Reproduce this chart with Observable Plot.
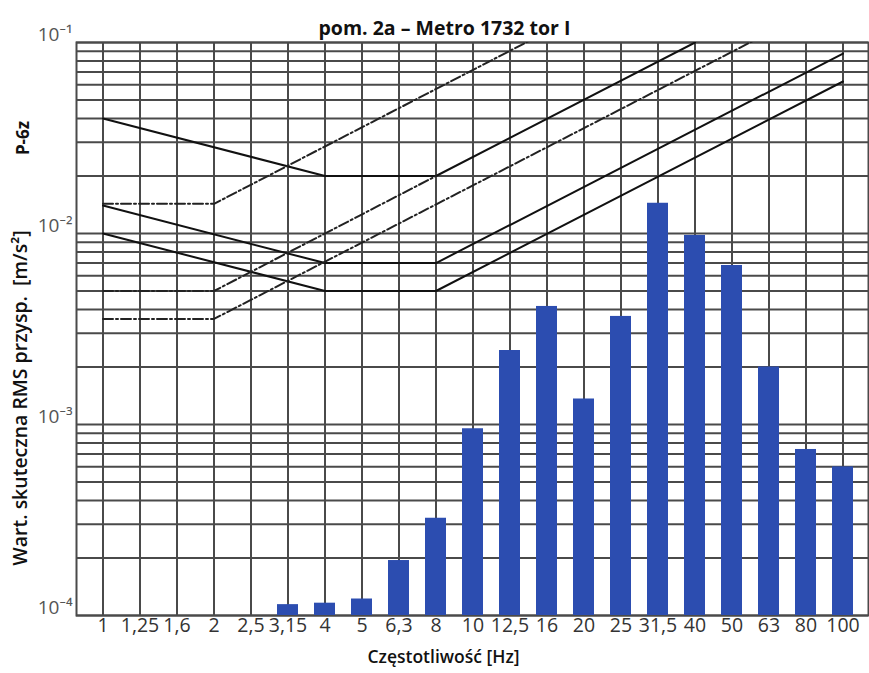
<!DOCTYPE html>
<html>
<head>
<meta charset="utf-8">
<script src="https://cdn.jsdelivr.net/npm/d3@7"></script>
<script src="https://cdn.jsdelivr.net/npm/@observablehq/plot@0.6"></script>
<style>
  html, body { margin: 0; padding: 0; background: #fff; }
  #chart svg { display: block; }
</style>
</head>
<body>
<div id="chart"></div>
<script>
// Frequency bands (x categories / tick labels)
const freqLabels = ["1","1,25","1,6","2","2,5","3,15","4","5","6,3","8","10","12,5","16","20","25","31,5","40","50","63","80","100"];
// Measured RMS acceleration per band [m/s²] (null = no bar)
const rmsValues = [null,null,null,null,null,1.14e-4,1.16e-4,1.22e-4,1.94e-4,3.23e-4,9.5e-4,2.44e-3,4.15e-3,1.36e-3,3.68e-3,1.44e-2,9.77e-3,6.8e-3,2.0e-3,7.4e-4,6.0e-4];

// Limit curves (breakpoints): solid (vertical direction)
const s1Freq = ["1","4","8","40"];   const s1Val = [0.04, 0.02, 0.02, 0.1];
const s2Freq = ["1","4","8","100"];  const s2Val = [0.014, 0.007, 0.007, 0.0875];
const s3Freq = ["1","4","8","100"];  const s3Val = [0.01, 0.005, 0.005, 0.0625];
// dash-dot (horizontal direction)
const d1Freq = ["1","2","16"];       const d1Val = [0.0143, 0.0143, 0.114];
const d2Freq = ["1","2","8"];        const d2Val = [0.005, 0.005, 0.02];
const d3Freq = ["1","2","63"];       const d3Val = [0.00357, 0.00357, 0.1125];

// Y grid values and labelled ticks
const yGrid = [1e-4,2e-4,3e-4,4e-4,5e-4,6e-4,7e-4,8e-4,9e-4,
               1e-3,2e-3,3e-3,4e-3,5e-3,6e-3,7e-3,8e-3,9e-3,
               1e-2,2e-2,3e-2,4e-2,5e-2,6e-2,7e-2,8e-2,9e-2,1e-1];
const yTicks = [1e-4, 1e-3, 1e-2, 1e-1];
const yTickLabels = ["10⁻⁴", "10⁻³", "10⁻²", "10⁻¹"];

const title = "pom. 2a – Metro 1732 tor I";
const xTitle = "Częstotliwość [Hz]";
const yTitle = "Wart. skuteczna RMS przysp.  [m/s²]";
const sideNote = "P-6z";

const bars = freqLabels.map((f, i) => ({f, v: rmsValues[i]})).filter(d => d.v != null);
const mk = (fs, vs, style) => fs.map((f, i) => ({f, v: vs[i], style}));
const solid = [mk(s1Freq, s1Val, "s1"), mk(s2Freq, s2Val, "s2"), mk(s3Freq, s3Val, "s3")];
const dashed = [mk(d1Freq, d1Val, "d1"), mk(d2Freq, d2Val, "d2"), mk(d3Freq, d3Val, "d3")];

const gridColor = "#4a4a4a";
const font = "'Open Sans', 'Noto Sans', sans-serif";

const chart = Plot.plot({
  width: 869,
  height: 673,
  marginLeft: 76,
  marginRight: 1,
  marginTop: 42,
  marginBottom: 58,
  style: {fontFamily: font, background: "#fff", color: "#333"},
  x: {type: "band", domain: freqLabels, paddingInner: 0.44, paddingOuter: 0.22, label: null},
  y: {type: "log", domain: [1e-4, 1e-1], label: null},
  marks: [
    Plot.gridY(yGrid, {stroke: gridColor, strokeOpacity: 1, strokeWidth: 2}),
    Plot.gridX({stroke: gridColor, strokeOpacity: 1, strokeWidth: 2}),
    Plot.frame({stroke: gridColor, strokeWidth: 2}),
    Plot.barY(bars, {x: "f", y1: () => 1e-4, y2: "v", fill: "#2c4db0"}),
    ...solid.map(d => Plot.line(d, {x: "f", y: "v", stroke: "#111", strokeWidth: 2, clip: true})),
    ...dashed.map(d => Plot.line(d, {x: "f", y: "v", stroke: "#222", strokeWidth: 2, strokeDasharray: "10,3,2,3", clip: true})),
    Plot.axisX({tickSize: 0, tickPadding: 3, fontSize: 19.5, label: null, fill: "#333"}),
    Plot.axisY(yTicks, {tickSize: 0, tickPadding: 4, fontSize: 19, dy: -8, label: null, fill: "#555",
      tickFormat: d => yTickLabels[yTicks.indexOf(d)]}),
    Plot.text([title], {frameAnchor: "top", dx: -28, dy: -21, fontSize: 19.5, fontWeight: "bold", fill: "#111"}),
    Plot.text([xTitle], {frameAnchor: "bottom", dx: -29, dy: 47, fontSize: 17.5, fontWeight: 600, fill: "#111"}),
    Plot.text([yTitle], {frameAnchor: "left", rotate: -90, textAnchor: "middle", dx: -56, dy: 69, fontSize: 19.5, fontWeight: 600, fill: "#111"}),
    Plot.text([sideNote], {frameAnchor: "left", rotate: -90, textAnchor: "middle", dx: -53, dy: -191, fontSize: 17, fontWeight: "bold", fill: "#111"})
  ]
});
document.getElementById("chart").appendChild(chart);
</script>
</body>
</html>
